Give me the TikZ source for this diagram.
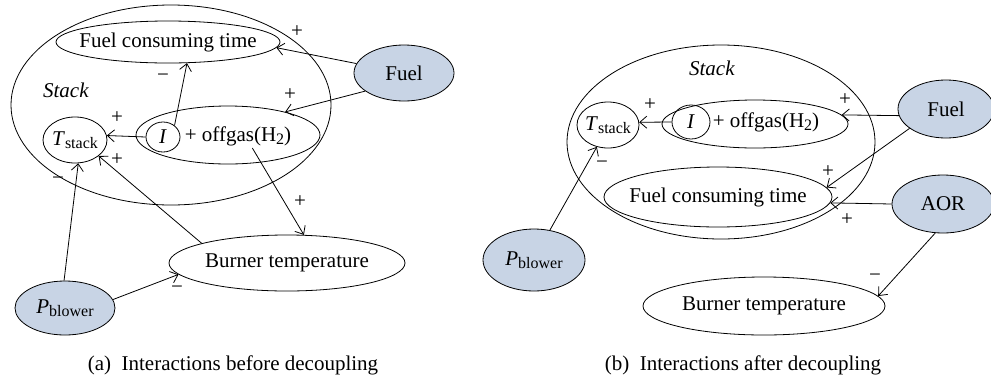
\documentclass[tikz,border=0pt]{standalone}
\usepackage{fontspec}
\setmainfont{Liberation Serif}
\usetikzlibrary{shapes.geometric,arrows.meta}
\definecolor{inputfill}{RGB}{200,212,229}
\newcommand{\subtext}[2]{\textit{#1}\raisebox{-0.35ex}{\footnotesize #2}}

\begin{document}
\begin{tikzpicture}[x=0.5pt,y=-0.5pt,
    font=\fontsize{10.5}{12.6}\selectfont,
    >={Straight Barb[length=3.5pt,width=6pt]},
    oval/.style={draw, ellipse, inner sep=0pt},
    given/.style={oval, fill=inputfill},
    sign/.style={inner sep=0pt},
    link/.style={->}]
    \useasboundingbox (0,0) rectangle (991,381);

    % (a) before decoupling
    \node (stackA) at (171,105) [oval, minimum width=160pt, minimum height=100pt] {};
    \node (stacklabelA) at (66,90) {\textit{Stack}};
    \node (fctA) at (168,42) [oval, minimum width=112pt, minimum height=21pt] {\makebox[0pt]{Fuel consuming time}};
    \node (tstackA) at (75,140) [oval, minimum width=32pt, minimum height=23pt] {\makebox[0pt]{\subtext{T}{stack}}};
    \node (offgasA) at (228,135) [oval, minimum width=92pt, minimum height=29pt] {};
    \node (iA) at (163,137) [oval, minimum width=17pt, minimum height=15pt] {\textit{I}};
    \node (gasA) at (238,136) [inner sep=1pt] {+ offgas(H\raisebox{-0.35ex}{\footnotesize 2})};
    \node (fuelA) at (404,73) [given, minimum width=50pt, minimum height=28pt] {Fuel};
    \node (burnerA) at (287,263) [oval, minimum width=118pt, minimum height=28pt] {\makebox[0pt]{Burner temperature}};
    \node (blowerA) at (65,308) [given, minimum width=50pt, minimum height=27pt] {\makebox[0pt]{\subtext{P}{blower}}};

    \draw [link] (fuelA) -- (fctA.-3);
    \draw [link] (fuelA.205) -- (offgasA.22);
    \draw [link] (iA.45) -- (fctA.-48);
    \draw [link] (iA.west) -- (tstackA.8);
    \draw [link] (burnerA.167) -- (tstackA.-34);
    \draw [link] (blowerA.92) -- (tstackA.-82);
    \draw [link] (gasA.-40) -- (burnerA.59);
    \draw [link] (blowerA.10) -- (burnerA.186);

    \node (sA1) at (297,32) [sign] {+};
    \node (sA2) at (290,95) [sign] {+};
    \node (sA3) at (163,78) [sign] {−};
    \node (sA4) at (117,118) [sign] {+};
    \node (sA5) at (117,160) [sign] {+};
    \node (sA6) at (58,181) [sign] {−};
    \node (sA7) at (300,202) [sign] {+};
    \node (sA8) at (177,290) [sign] {−};

    \node (captionA) at (233,365) {(a)\ \ Interactions before decoupling};

    % (b) after decoupling
    \node (stackB) at (721,142) [oval, minimum width=154pt, minimum height=97pt] {};
    \node (stacklabelB) at (712,68) {\textit{Stack}};
    \node (tstackB) at (608,125) [oval, minimum width=31pt, minimum height=23pt] {\makebox[0pt]{\subtext{T}{stack}}};
    \node (offgasB) at (755,124) [oval, minimum width=93pt, minimum height=24pt] {};
    \node (iB) at (691,122) [oval, minimum width=19pt, minimum height=17pt] {\textit{I}};
    \node (gasB) at (766,122) [inner sep=1pt] {+ offgas(H\raisebox{-0.35ex}{\footnotesize 2})};
    \node (fctB) at (718,197) [oval, minimum width=114pt, minimum height=30pt] {\makebox[0pt]{Fuel consuming time}};
    \node (fuelB) at (946,109) [given, minimum width=48pt, minimum height=29pt] {Fuel};
    \node (aorB) at (943,204) [given, minimum width=51pt, minimum height=29pt] {AOR};
    \node (blowerB) at (534,260) [given, minimum width=51pt, minimum height=31pt] {\makebox[0pt]{\subtext{P}{blower}}};
    \node (burnerB) at (764,306) [oval, minimum width=121pt, minimum height=29pt] {\makebox[0pt]{Burner temperature}};

    \draw [link] (iB.west) -- (tstackB.5);
    \draw [link] (fuelB.188) -- (offgasB.6);
    \draw [link] (fuelB.208) -- (fctB.5);
    \draw [link] (aorB.west) -- (fctB.-3);
    \draw [link] (blowerB.62) -- (tstackB.243);
    \draw [link] (aorB.255) -- (burnerB.5);

    \node (sB1) at (650,105) [sign] {+};
    \node (sB2) at (845,100) [sign] {+};
    \node (sB3) at (828,172) [sign] {+};
    \node (sB4) at (847,220) [sign] {+};
    \node (sB5) at (602,165) [sign] {−};
    \node (sB6) at (875,278) [sign] {−};

    \node (captionB) at (743,365) {(b)\ \ Interactions after decoupling};
\end{tikzpicture}
\end{document}
